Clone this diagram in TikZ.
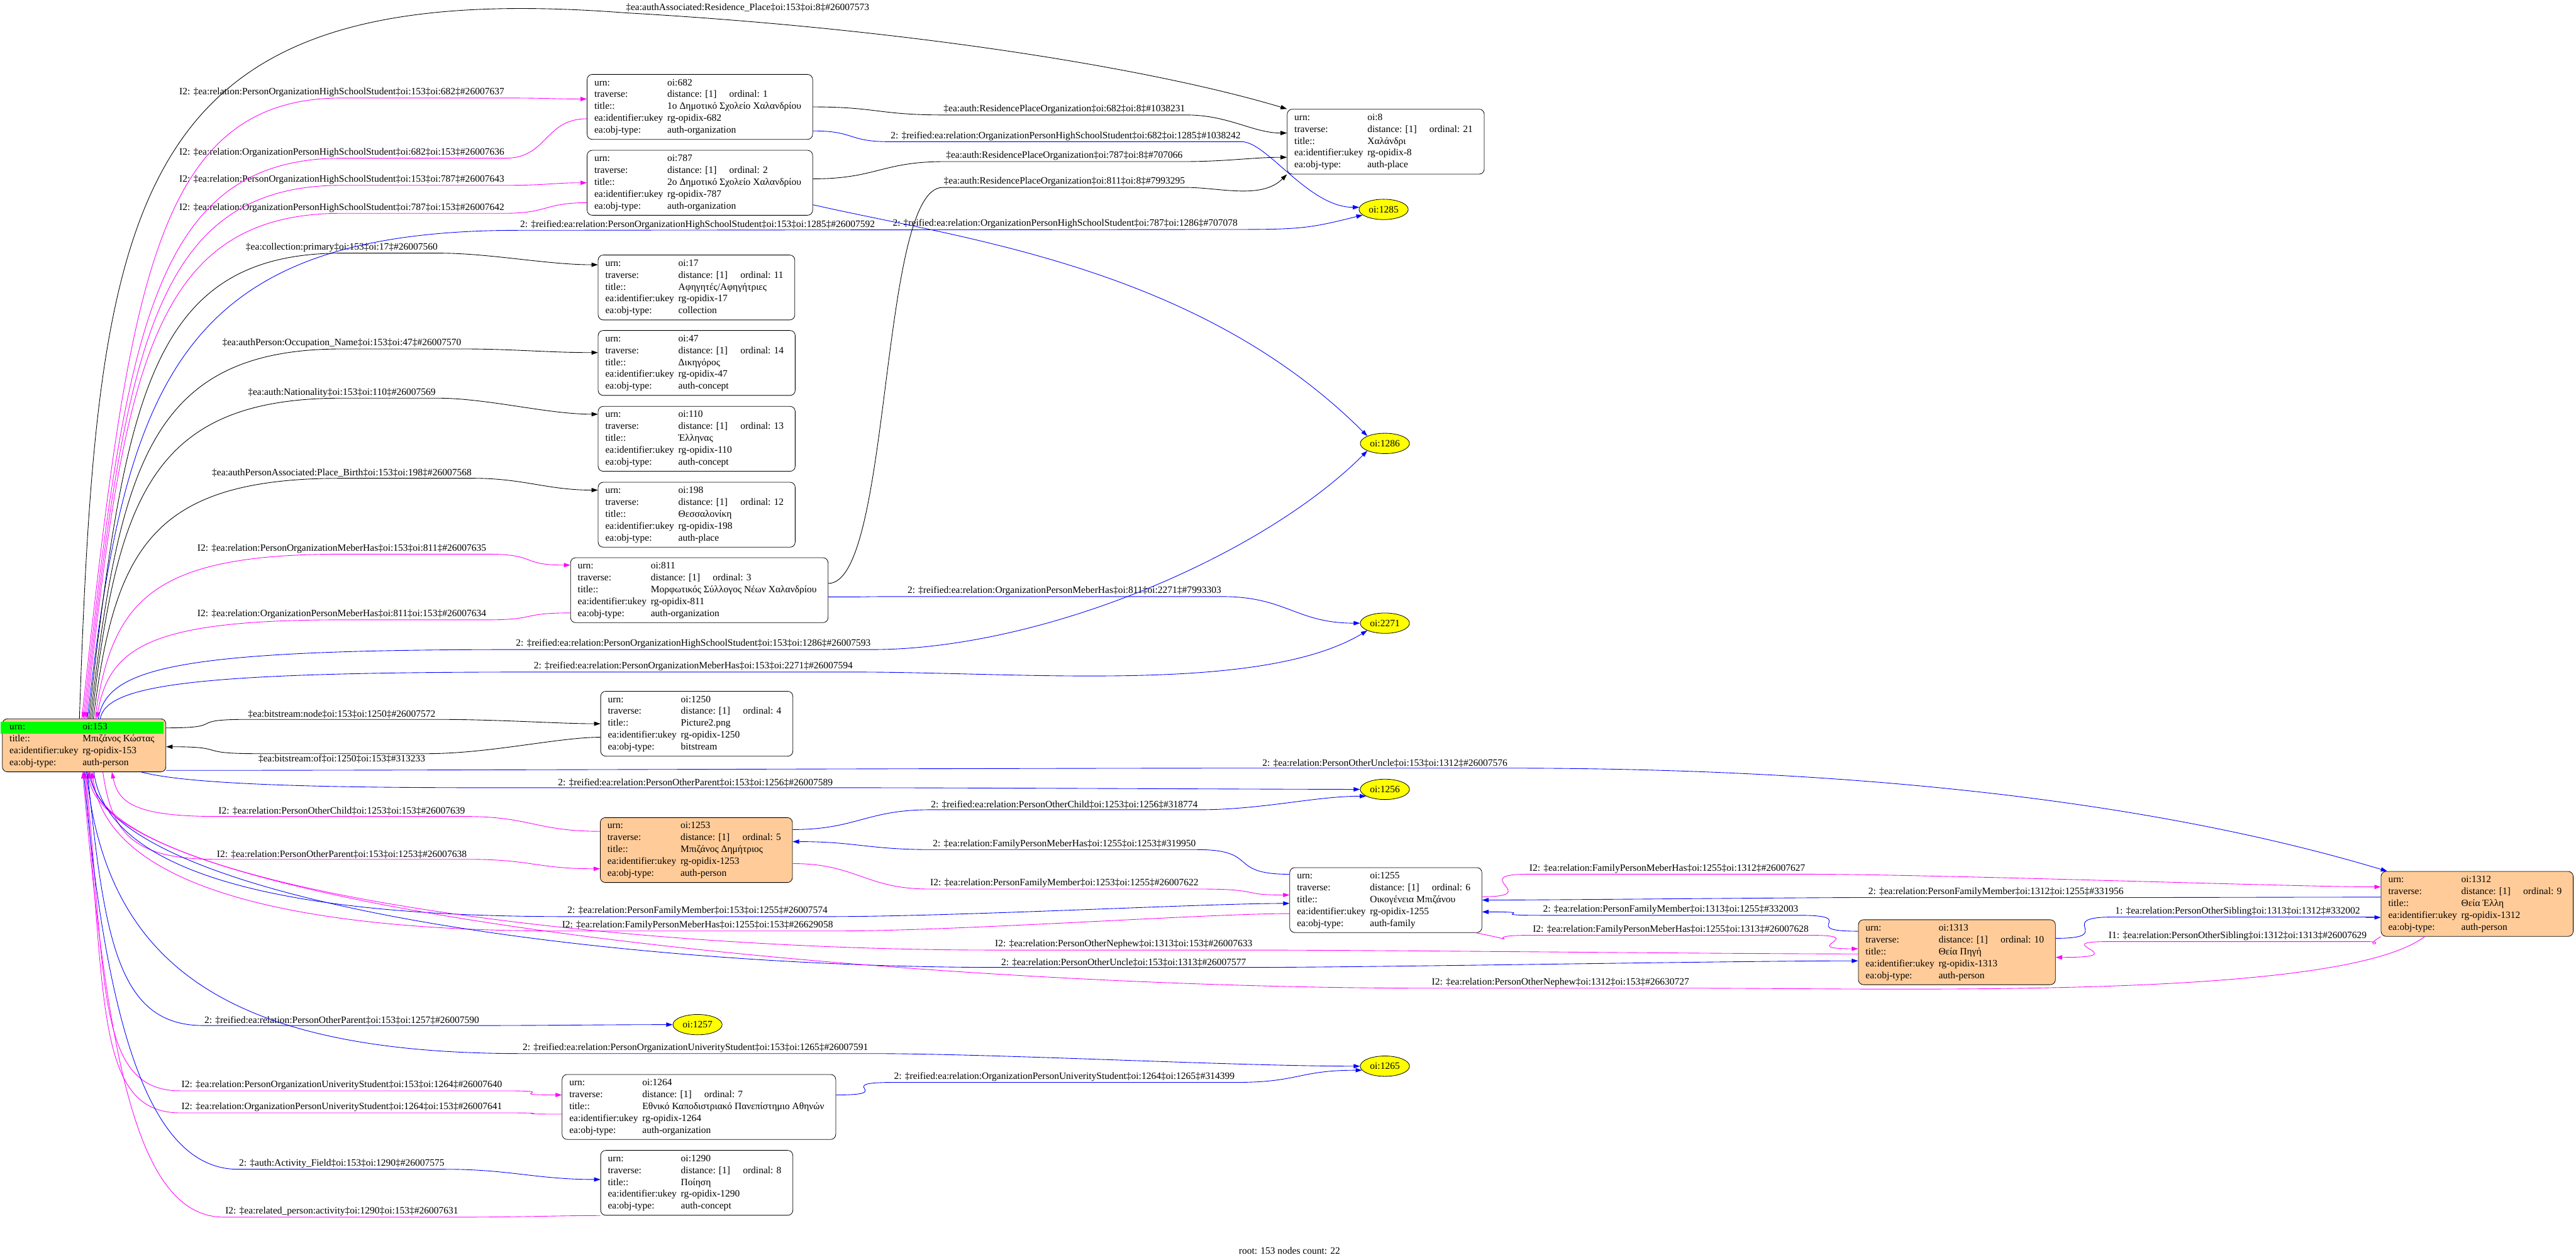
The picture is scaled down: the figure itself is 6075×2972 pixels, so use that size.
\documentclass[tikz,border=0pt]{standalone}
\usepackage{fontspec}
\setmainfont{Liberation Serif}
\usepackage{colortbl}
\usetikzlibrary{arrows.meta,shapes.geometric}
\definecolor{recFill}{HTML}{FFCC99}
\definecolor{rootRow}{HTML}{00FF00}
\definecolor{relBlue}{HTML}{0000FF}
\definecolor{relMag}{HTML}{FF00FF}
\definecolor{leafFill}{HTML}{FFFF00}
\newcommand{\recrows}[4]{%
  \begin{tabular}{@{}l@{\hspace{0.1cm}}l@{\hspace{0.1cm}}}
  urn: & oi:#1\\
  traverse: & distance: [1]\hspace{0.3cm}ordinal: #2\\
  title:: & #3\\
  ea:identifier:ukey & rg-opidix-#1\\
  ea:obj-type: & #4
  \end{tabular}}

\begin{document}
\begin{tikzpicture}[x=0.01cm,y=-0.01cm,
  every node/.style={font=\fontsize{6.54}{7.97}\selectfont},
  rec/.style={draw,rounded corners=0.12cm,line width=0.012cm,inner xsep=0.17cm,inner ysep=0.065cm,anchor=north west},
  person/.style={rec,fill=recFill},
  leaf/.style={ellipse,draw,fill=leafFill,line width=0.012cm,minimum width=1.16cm,minimum height=0.48cm,inner sep=0pt},
  lbl/.style={inner sep=0.02cm},
  link/.style={line width=0.013cm,-{Triangle[length=0.15cm,width=0.1cm]}},
  back/.style={line width=0.013cm,{Triangle[length=0.15cm,width=0.1cm]}-},
  blk/.style={draw=black},
  blu/.style={draw=relBlue},
  mag/.style={draw=relMag}]
  \useasboundingbox (0,0) rectangle (6075,2972);

  % root
  \node[person] (n153) at (5,1695) {\begin{tabular}{@{}l@{\hspace{0.1cm}}l@{\hspace{0.1cm}}}
    \rowcolor{rootRow}urn: & oi:153\\
    title:: & Μπιζάνος Κώστας\\
    ea:identifier:ukey & rg-opidix-153\\
    ea:obj-type: & auth-person
    \end{tabular}};

  % first column
  \node[rec] (n682) at (1384,175) {\recrows{682}{1}{1ο Δημοτικό Σχολείο Χαλανδρίου}{auth-organization}};
  \node[rec] (n787) at (1384,354) {\recrows{787}{2}{2ο Δημοτικό Σχολείο Χαλανδρίου}{auth-organization}};
  \node[rec] (n17) at (1410,601) {\recrows{17}{11}{Αφηγητές/Αφηγήτριες}{collection}};
  \node[rec] (n47) at (1410,779) {\recrows{47}{14}{Δικηγόρος}{auth-concept}};
  \node[rec] (n110) at (1410,958) {\recrows{110}{13}{Έλληνας}{auth-concept}};
  \node[rec] (n198) at (1410,1137) {\recrows{198}{12}{Θεσσαλονίκη}{auth-place}};
  \node[rec] (n811) at (1345,1315) {\recrows{811}{3}{Μορφωτικός Σύλλογος Νέων Χαλανδρίου}{auth-organization}};
  \node[rec] (n1250) at (1416,1630) {\recrows{1250}{4}{Picture2.png}{bitstream}};
  \node[person] (n1253) at (1415,1928) {\recrows{1253}{5}{Μπιζάνος Δημήτριος}{auth-person}};
  \node[leaf] (n1257) at (1645,2417) {oi:1257};
  \node[rec] (n1264) at (1325,2534) {\recrows{1264}{7}{Εθνικό Καποδιστριακό Πανεπίστημιο Αθηνών}{auth-organization}};
  \node[rec] (n1290) at (1416,2713) {\recrows{1290}{8}{Ποίηση}{auth-concept}};

  % second column
  \node[rec] (n8) at (3035,257) {\recrows{8}{21}{Χαλάνδρι}{auth-place}};
  \node[leaf] (n1285) at (3263,494) {oi:1285};
  \node[leaf] (n1286) at (3266,1046) {oi:1286};
  \node[leaf] (n2271) at (3266,1470) {oi:2271};
  \node[leaf] (n1256) at (3266,1862) {oi:1256};
  \node[rec] (n1255) at (3041,2046) {\recrows{1255}{6}{Οικογένεια Μπιζάνου}{auth-family}};
  \node[leaf] (n1265) at (3266,2515) {oi:1265};

  % relatives
  \node[person] (n1313) at (4382,2169) {\recrows{1313}{10}{Θεία Πηγή}{auth-person}};
  \node[person,anchor=north east] (n1312) at (6069,2055) {\recrows{1312}{9}{Θεία Έλλη}{auth-person}};

  % edge labels
  \node[lbl] (l1) at (1763,18) {‡ea:authAssociated:Residence\_Place‡oi:153‡oi:8‡\#26007573};
  \node[lbl] (l2) at (806,218) {I2: ‡ea:relation:PersonOrganizationHighSchoolStudent‡oi:153‡oi:682‡\#26007637};
  \node[lbl] (l3) at (806,360) {I2: ‡ea:relation:OrganizationPersonHighSchoolStudent‡oi:682‡oi:153‡\#26007636};
  \node[lbl] (l4) at (806,424) {I2: ‡ea:relation:PersonOrganizationHighSchoolStudent‡oi:153‡oi:787‡\#26007643};
  \node[lbl] (l5) at (806,490) {I2: ‡ea:relation:OrganizationPersonHighSchoolStudent‡oi:787‡oi:153‡\#26007642};
  \node[lbl] (l6) at (1645,530) {2: ‡reified:ea:relation:PersonOrganizationHighSchoolStudent‡oi:153‡oi:1285‡\#26007592};
  \node[lbl] (l7) at (2510,258) {‡ea:auth:ResidencePlaceOrganization‡oi:682‡oi:8‡\#1038231};
  \node[lbl] (l8) at (2513,321) {2: ‡reified:ea:relation:OrganizationPersonHighSchoolStudent‡oi:682‡oi:1285‡\#1038242};
  \node[lbl] (l9) at (2510,368) {‡ea:auth:ResidencePlaceOrganization‡oi:787‡oi:8‡\#707066};
  \node[lbl] (l10) at (2510,429) {‡ea:auth:ResidencePlaceOrganization‡oi:811‡oi:8‡\#7993295};
  \node[lbl] (l11) at (2512,528) {2: ‡reified:ea:relation:OrganizationPersonHighSchoolStudent‡oi:787‡oi:1286‡\#707078};
  \node[lbl] (l12) at (806,584) {‡ea:collection:primary‡oi:153‡oi:17‡\#26007560};
  \node[lbl] (l13) at (806,810) {‡ea:authPerson:Occupation\_Name‡oi:153‡oi:47‡\#26007570};
  \node[lbl] (l14) at (806,926) {‡ea:auth:Nationality‡oi:153‡oi:110‡\#26007569};
  \node[lbl] (l15) at (806,1116) {‡ea:authPersonAssociated:Place\_Birth‡oi:153‡oi:198‡\#26007568};
  \node[lbl] (l16) at (806,1294) {I2: ‡ea:relation:PersonOrganizationMeberHas‡oi:153‡oi:811‡\#26007635};
  \node[lbl] (l17) at (806,1449) {I2: ‡ea:relation:OrganizationPersonMeberHas‡oi:811‡oi:153‡\#26007634};
  \node[lbl] (l18) at (2510,1394) {2: ‡reified:ea:relation:OrganizationPersonMeberHas‡oi:811‡oi:2271‡\#7993303};
  \node[lbl] (l19) at (1635,1519) {2: ‡reified:ea:relation:PersonOrganizationHighSchoolStudent‡oi:153‡oi:1286‡\#26007593};
  \node[lbl] (l20) at (1635,1572) {2: ‡reified:ea:relation:PersonOrganizationMeberHas‡oi:153‡oi:2271‡\#26007594};
  \node[lbl] (l21) at (806,1685) {‡ea:bitstream:node‡oi:153‡oi:1250‡\#26007572};
  \node[lbl] (l22) at (806,1790) {‡ea:bitstream:of‡oi:1250‡oi:153‡\#313233};
  \node[lbl] (l23) at (3266,1800) {2: ‡ea:relation:PersonOtherUncle‡oi:153‡oi:1312‡\#26007576};
  \node[lbl] (l24) at (1640,1846) {2: ‡reified:ea:relation:PersonOtherParent‡oi:153‡oi:1256‡\#26007589};
  \node[lbl] (l25) at (806,1914) {I2: ‡ea:relation:PersonOtherChild‡oi:1253‡oi:153‡\#26007639};
  \node[lbl] (l26) at (2510,1898) {2: ‡reified:ea:relation:PersonOtherChild‡oi:1253‡oi:1256‡\#318774};
  \node[lbl] (l27) at (806,2015) {I2: ‡ea:relation:PersonOtherParent‡oi:153‡oi:1253‡\#26007638};
  \node[lbl] (l28) at (2510,1991) {2: ‡ea:relation:FamilyPersonMeberHas‡oi:1255‡oi:1253‡\#319950};
  \node[lbl] (l29) at (2510,2084) {I2: ‡ea:relation:PersonFamilyMember‡oi:1253‡oi:1255‡\#26007622};
  \node[lbl] (l30) at (1645,2149) {2: ‡ea:relation:PersonFamilyMember‡oi:153‡oi:1255‡\#26007574};
  \node[lbl] (l31) at (1645,2183) {I2: ‡ea:relation:FamilyPersonMeberHas‡oi:1255‡oi:153‡\#26629058};
  \node[lbl] (l32) at (3932,2049) {I2: ‡ea:relation:FamilyPersonMeberHas‡oi:1255‡oi:1312‡\#26007627};
  \node[lbl] (l33) at (4707,2104) {2: ‡ea:relation:PersonFamilyMember‡oi:1312‡oi:1255‡\#331956};
  \node[lbl] (l34) at (3940,2146) {2: ‡ea:relation:PersonFamilyMember‡oi:1313‡oi:1255‡\#332003};
  \node[lbl] (l35) at (3940,2193) {I2: ‡ea:relation:FamilyPersonMeberHas‡oi:1255‡oi:1313‡\#26007628};
  \node[lbl] (l36) at (5277,2150) {1: ‡ea:relation:PersonOtherSibling‡oi:1313‡oi:1312‡\#332002};
  \node[lbl] (l37) at (5277,2208) {I1: ‡ea:relation:PersonOtherSibling‡oi:1312‡oi:1313‡\#26007629};
  \node[lbl] (l38) at (2650,2228) {I2: ‡ea:relation:PersonOtherNephew‡oi:1313‡oi:153‡\#26007633};
  \node[lbl] (l39) at (2650,2270) {2: ‡ea:relation:PersonOtherUncle‡oi:153‡oi:1313‡\#26007577};
  \node[lbl] (l40) at (3680,2318) {I2: ‡ea:relation:PersonOtherNephew‡oi:1312‡oi:153‡\#26630727};
  \node[lbl] (l41) at (806,2407) {2: ‡reified:ea:relation:PersonOtherParent‡oi:153‡oi:1257‡\#26007590};
  \node[lbl] (l42) at (1640,2472) {2: ‡reified:ea:relation:PersonOrganizationUniverityStudent‡oi:153‡oi:1265‡\#26007591};
  \node[lbl] (l43) at (806,2560) {I2: ‡ea:relation:PersonOrganizationUniverityStudent‡oi:153‡oi:1264‡\#26007640};
  \node[lbl] (l44) at (806,2612) {I2: ‡ea:relation:OrganizationPersonUniverityStudent‡oi:1264‡oi:153‡\#26007641};
  \node[lbl] (l45) at (2510,2540) {2: ‡reified:ea:relation:OrganizationPersonUniverityStudent‡oi:1264‡oi:1265‡\#314399};
  \node[lbl] (l46) at (806,2745) {2: ‡auth:Activity\_Field‡oi:153‡oi:1290‡\#26007575};
  \node[lbl] (l47) at (806,2858) {I2: ‡ea:related\_person:activity‡oi:1290‡oi:153‡\#26007631};
  \node (footer) at (3041,2950) {root: 153 nodes count: 22};

  % edges leaving the top of the root
  \draw[blk,link] (n153.100) .. controls (230,450) and (300,-60) .. (l1.south west) .. controls +(700,40) and +(-300,-90) .. (n8.north west);
  \draw[mag,link] (n153.95) .. controls +(110,-1000) and +(-450,0) .. (l2.south) -- (l2.south east) .. controls +(100,0) and +(-80,0) .. (n682.176);
  \draw[mag,back] (n153.92) .. controls +(100,-900) and +(-450,0) .. (l3.south) -- (l3.south east) .. controls +(100,0) and +(-100,0) .. (n682.-174);
  \draw[mag,link] (n153.89) .. controls +(95,-860) and +(-450,0) .. (l4.south) -- (l4.south east) .. controls +(100,0) and +(-80,0) .. (n787.west);
  \draw[mag,back] (n153.86) .. controls +(90,-820) and +(-450,0) .. (l5.south) -- (l5.south east) .. controls +(100,0) and +(-100,0) .. (n787.-170);
  \draw[blu,link] (n153.83) .. controls +(90,-800) and +(-800,0) .. (l6.south west) -- (l11.south east) .. controls +(150,0) and +(-120,30) .. (n1285.-165);
  \draw[blk,link] (n153.80) .. controls +(85,-760) and +(-450,0) .. (l12.south) -- (l12.south east) .. controls +(120,0) and +(-120,0) .. (n17.167);
  \draw[blk,link] (n153.77) .. controls +(70,-600) and +(-450,0) .. (l13.south) -- (l13.south east) .. controls +(120,0) and +(-120,0) .. (n47.174);
  \draw[blk,link] (n153.74) .. controls +(60,-520) and +(-450,0) .. (l14.south) -- (l14.south east) .. controls +(120,0) and +(-120,0) .. (n110.166);
  \draw[blk,link] (n153.71) .. controls +(50,-400) and +(-450,0) .. (l15.south) -- (l15.south east) .. controls +(120,0) and +(-120,0) .. (n198.166);
  \draw[mag,link] (n153.68) .. controls +(40,-280) and +(-450,0) .. (l16.south) -- (l16.south east) .. controls +(120,0) and +(-120,0) .. (n811.169);
  \draw[mag,back] (n153.65) .. controls +(30,-170) and +(-450,0) .. (l17.south) -- (l17.south east) .. controls +(120,0) and +(-120,0) .. (n811.-170);
  \draw[blu,link] (n153.62) .. controls +(20,-120) and +(-800,0) .. (l19.south west) -- (l19.south east) .. controls +(400,0) and +(-250,250) .. (n1286.south west);
  \draw[blu,link] (n153.59) .. controls +(15,-80) and +(-800,0) .. (l20.south west) -- (l20.south east) .. controls +(400,0) and +(-250,150) .. (n2271.south west);

  % first column to second column
  \draw[blk,link] (n682.east) .. controls +(150,0) and +(-150,0) .. (l7.south west) -- (l7.south east) .. controls +(100,0) and +(-80,0) .. (n8.175);
  \draw[blu,link] (n682.-12) .. controls +(100,0) and +(-100,0) .. (l8.south west) -- (l8.south east) .. controls +(60,0) and +(-120,0) .. (n1285.175);
  \draw[blk,link] (n787.2) .. controls +(150,0) and +(-150,0) .. (l9.south west) -- (l9.south east) .. controls +(100,0) and +(-80,0) .. (n8.-171);
  \draw[blk,link] (n811.3) .. controls +(150,0) and +(-150,0) .. (l10.south west) -- (l10.south east) .. controls +(80,0) and +(-60,60) .. (n8.south west);
  \draw[blu,link] (n787.-11) .. controls +(350,80) and +(-400,-400) .. (n1286.north west);
  \draw[blu,link] (n811.-3) .. controls +(150,0) and +(-150,0) .. (l18.south west) -- (l18.south east) .. controls +(150,0) and +(-150,0) .. (n2271.west);

  % bitstream
  \draw[blk,link] (n153.12) .. controls +(150,0) and +(-150,0) .. (l21.south west) -- (l21.south east) .. controls +(150,0) and +(-100,0) .. (n1250.west);
  \draw[blk,back] (n153.-1) .. controls +(150,0) and +(-150,0) .. (l22.north west) -- (l22.north east) .. controls +(150,0) and +(-100,0) .. (n1250.-172);

  % family
  \draw[blu,link] (n153.-17) .. controls +(600,0) and +(-600,0) .. (l23.south west) -- (l23.south east) .. controls +(900,0) and +(-500,-150) .. (n1312.160);
  \draw[blu,link] (n153.-25) .. controls +(150,40) and +(-300,0) .. (l24.south west) -- (l24.south east) .. controls +(300,0) and +(-200,0) .. (n1256.west);
  \draw[mag,back] (n153.-44) .. controls +(15,70) and +(-200,0) .. (l25.south west) -- (l25.south east) .. controls +(150,0) and +(-150,0) .. (n1253.169);
  \draw[mag,link] (n153.-55) .. controls +(20,140) and +(-200,0) .. (l27.south west) -- (l27.south east) .. controls +(150,0) and +(-150,0) .. (n1253.-169);
  \draw[blu,link] (n1253.12) .. controls +(150,0) and +(-150,0) .. (l26.south west) -- (l26.south east) .. controls +(150,0) and +(-120,0) .. (n1256.-160);
  \draw[blu,back] (n1253.5) .. controls +(150,0) and +(-150,0) .. (l28.south west) -- (l28.south east) .. controls +(150,0) and +(-150,0) .. (n1255.165);
  \draw[mag,link] (n1253.-8) .. controls +(150,0) and +(-150,0) .. (l29.south west) -- (l29.south east) .. controls +(150,0) and +(-120,0) .. (n1255.177);
  \draw[blu,link] (n153.-70) .. controls +(30,230) and +(-700,0) .. (l30.south west) -- (l30.south east) .. controls +(300,0) and +(-200,0) .. (n1255.-178);
  \draw[mag,back] (n153.-73) .. controls +(30,250) and +(-700,0) .. (l31.south west) -- (l31.south east) .. controls +(300,0) and +(-200,0) .. (n1255.-172);
  \draw[mag,link] (n1255.2) .. controls +(150,0) and +(-150,0) .. (l32.south west) -- (l32.south east) .. controls +(300,0) and +(-200,0) .. (n1312.170);
  \draw[blu,back] (n1255.0) .. controls +(150,0) and +(-150,0) .. (l33.south west) -- (l33.south east) .. controls +(200,0) and +(-200,0) .. (n1312.176);
  \draw[blu,back] (n1255.-7) .. controls +(150,0) and +(-150,0) .. (l34.south west) -- (l34.south east) .. controls +(150,0) and +(-150,0) .. (n1313.168);
  \draw[mag,link] (n1255.-20) .. controls +(150,30) and +(-150,0) .. (l35.south west) -- (l35.south east) .. controls +(150,0) and +(-150,0) .. (n1313.178);
  \draw[blu,link] (n1313.8) .. controls +(150,0) and +(-150,0) .. (l36.south west) -- (l36.south east) .. controls +(80,0) and +(-80,0) .. (n1312.-172);
  \draw[mag,back] (n1313.-3) .. controls +(200,0) and +(-150,0) .. (l37.south west) -- (l37.south east) .. controls +(50,0) and +(-50,30) .. (n1312.south west);
  \draw[mag,back] (n153.-76) .. controls +(35,280) and +(-900,0) .. (l38.south west) -- (l38.south east) .. controls +(300,0) and +(-300,0) .. (n1313.-179);
  \draw[blu,link] (n153.-79) .. controls +(35,310) and +(-900,0) .. (l39.south west) -- (l39.south east) .. controls +(300,0) and +(-300,0) .. (n1313.-175);
  \draw[mag,back] (n153.-81) .. controls +(40,340) and +(-1200,0) .. (l40.south west) -- (l40.south east) .. controls +(500,0) and +(-200,150) .. (n1312.-148);

  % lower first column
  \draw[blu,link] (n153.-83) .. controls +(40,400) and +(-200,0) .. (l41.south west) -- (l41.south east) .. controls +(150,0) and +(-150,0) .. (n1257.west);
  \draw[blu,link] (n153.-85) .. controls +(45,450) and +(-700,0) .. (l42.south west) -- (l42.south east) .. controls +(300,0) and +(-300,0) .. (n1265.west);
  \draw[mag,link] (n153.-87) .. controls +(50,500) and +(-200,0) .. (l43.south west) -- (l43.south east) .. controls +(150,0) and +(-150,0) .. (n1264.175);
  \draw[mag,back] (n153.-89) .. controls +(50,540) and +(-200,0) .. (l44.south west) -- (l44.south east) .. controls +(150,0) and +(-150,0) .. (n1264.-177);
  \draw[blu,link] (n1264.5) .. controls +(150,0) and +(-150,0) .. (l45.south west) -- (l45.south east) .. controls +(150,0) and +(-150,0) .. (n1265.-170);
  \draw[blu,link] (n153.-91) .. controls +(55,630) and +(-200,0) .. (l46.south west) -- (l46.south east) .. controls +(150,0) and +(-150,0) .. (n1290.178);
  \draw[mag,back] (n153.-93) .. controls +(60,700) and +(-200,0) .. (l47.south west) -- (l47.south east) .. controls +(150,0) and +(-100,0) .. (n1290.south west);
\end{tikzpicture}
\end{document}
